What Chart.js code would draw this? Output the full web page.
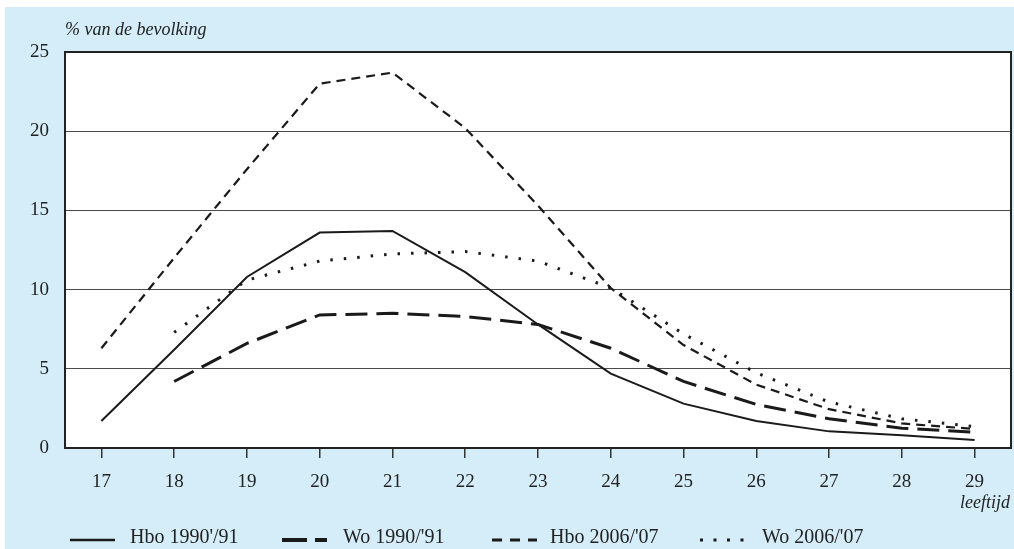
<!DOCTYPE html>
<html>
<head>
<meta charset="utf-8">
<script src="https://cdn.jsdelivr.net/npm/chart.js@4.4.1/dist/chart.umd.min.js"></script>
<style>
  html, body { margin: 0; padding: 0; background: #fff; }
  #wrap { width: 1014px; height: 549px; position: relative; }
</style>
</head>
<body>
<div id="wrap"><canvas id="ageChart"></canvas></div>
<script>
/* data */
const ages = ['17', '18', '19', '20', '21', '22', '23', '24', '25', '26', '27', '28', '29'];
const hbo1990 = [1.7, 6.2, 10.8, 13.6, 13.7, 11.1, 7.8, 4.7, 2.8, 1.7, 1.05, 0.8, 0.5];
const wo1990 = [null, 4.2, 6.6, 8.4, 8.5, 8.3, 7.8, 6.3, 4.2, 2.75, 1.85, 1.25, 1.0];
const hbo2006 = [6.3, 12.0, 17.6, 23.0, 23.7, 20.2, 15.3, 10.1, 6.5, 4.0, 2.45, 1.55, 1.2];
const wo2006 = [null, 7.3, 10.6, 11.8, 12.25, 12.4, 11.8, 10.1, 7.2, 4.75, 2.9, 1.85, 1.35];
const seriesNames = ["Hbo 1990'/91", "Wo 1990/'91", "Hbo 2006/'07", "Wo 2006/'07"];
const yLabel = '% van de bevolking';
const xLabel = 'leeftijd';

const SERIF = '"Liberation Serif", "DejaVu Serif", serif';
const INK = '#1a1a1a';

/* light blue panel, white plot, frame, titles, legend */
const panel = {
  id: 'panel',
  beforeDraw(chart) {
    const { ctx, chartArea: a } = chart;
    ctx.save();
    ctx.fillStyle = '#d4edf9';
    ctx.fillRect(5, 7, chart.width - 5, chart.height - 7);
    ctx.fillStyle = '#fff';
    ctx.fillRect(a.left, a.top, a.right - a.left, a.bottom - a.top);
    ctx.restore();
  },
  beforeDatasetsDraw(chart) {
    const { ctx, chartArea: a } = chart;
    ctx.save();
    ctx.strokeStyle = '#222';
    ctx.lineWidth = 2;
    ctx.strokeRect(a.left, a.top, a.right - a.left, a.bottom - a.top);
    ctx.restore();
  },
  afterDraw(chart) {
    const { ctx, chartArea: a } = chart;
    ctx.save();
    ctx.fillStyle = '#222';
    ctx.font = 'italic 18px ' + SERIF;
    ctx.textBaseline = 'alphabetic';
    ctx.textAlign = 'left';
    ctx.fillText(yLabel, a.left, 35);
    ctx.textAlign = 'right';
    ctx.fillText(xLabel, 1010, 508);

    // legend
    const xs = [70, 282, 492, 700];
    const tx = [130, 343, 550, 762];
    const y = 540;
    ctx.textAlign = 'left';
    ctx.font = '20px ' + SERIF;
    chart.data.datasets.forEach((ds, i) => {
      const x0 = xs[i];
      ctx.save();
      ctx.strokeStyle = INK;
      ctx.lineWidth = ds.legendWidth;
      ctx.setLineDash(ds.legendDash);
      ctx.lineCap = 'butt';
      ctx.beginPath();
      ctx.moveTo(x0, y);
      ctx.lineTo(x0 + 45, y);
      ctx.stroke();
      ctx.restore();
      ctx.fillText(ds.label, tx[i], y + 3);
    });
    ctx.restore();
  }
};

const ctx = document.getElementById('ageChart').getContext('2d');

new Chart(ctx, {
  type: 'line',
  data: {
    labels: ages,
    datasets: [
      { label: seriesNames[0], data: hbo1990, borderColor: INK, borderWidth: 2, legendDash: [], legendWidth: 2.5 },
      { label: seriesNames[1], data: wo1990, borderColor: INK, borderWidth: 3, borderDash: [22, 9], legendDash: [25, 8, 12, 100], legendWidth: 4 },
      { label: seriesNames[2], data: hbo2006, borderColor: INK, borderWidth: 2.2, borderDash: [9, 6], legendDash: [10, 8], legendWidth: 3 },
      { label: seriesNames[3], data: wo2006, borderColor: INK, borderWidth: 3, borderDash: [2.5, 11], legendDash: [3, 10.5], legendWidth: 3 }
    ]
  },
  options: {
    responsive: true,
    maintainAspectRatio: false,
    animation: false,
    layout: { padding: { top: 52, right: 3, left: 0, bottom: 0 } },
    elements: { point: { radius: 0 }, line: { tension: 0, borderCapStyle: 'butt' } },
    plugins: { legend: { display: false }, tooltip: { enabled: false } },
    scales: {
      x: {
        offset: true,
        grid: { display: true, drawOnChartArea: false, drawTicks: true, tickLength: 10, offset: false, color: '#333', lineWidth: 1.5 },
        border: { display: true, color: '#222', width: 2 },
        ticks: { color: '#222', font: { family: SERIF, size: 19 }, padding: 13, maxRotation: 0 },
        afterFit(scale) { scale.height = 101; }
      },
      y: {
        min: 0,
        max: 25,
        ticks: { stepSize: 5, color: '#222', font: { family: SERIF, size: 19 }, padding: 16 },
        grid: { color: '#4a4a4a', lineWidth: 1, drawTicks: false },
        border: { display: false },
        afterFit(scale) { scale.width = 65; }
      }
    }
  },
  plugins: [panel]
});
</script>
</body>
</html>
